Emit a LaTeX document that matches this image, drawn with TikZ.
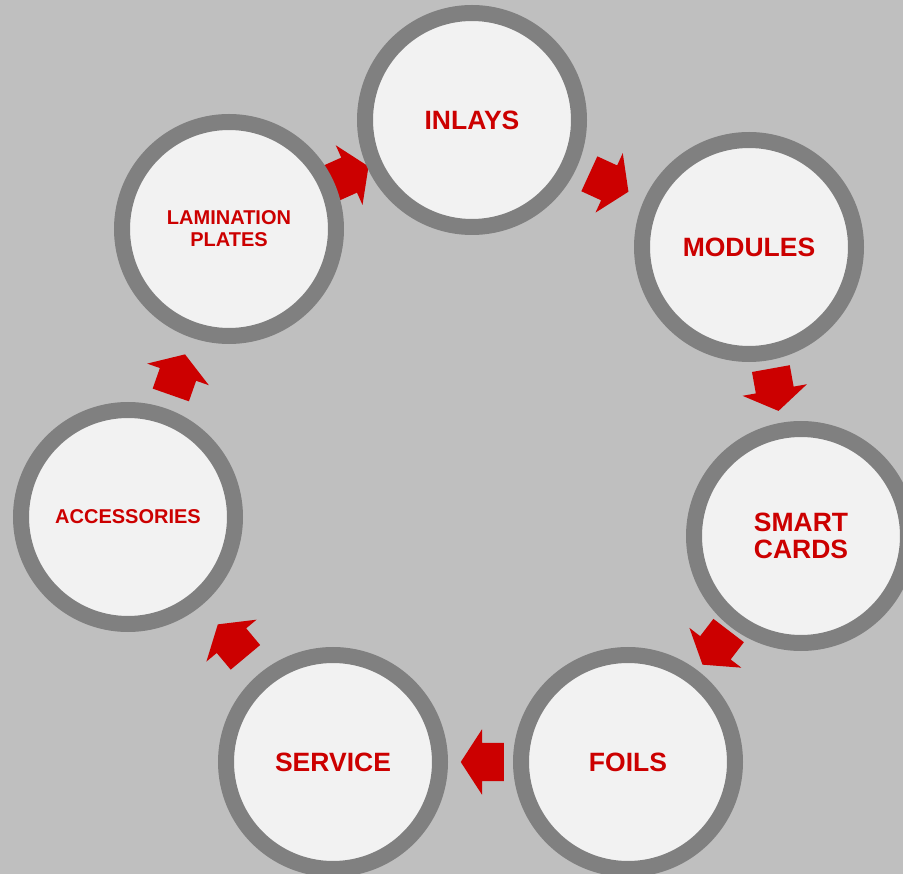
\documentclass[tikz,border=0pt]{standalone}
\usepackage{fontspec}
\setmainfont{Liberation Sans}
\usetikzlibrary{shapes.arrows, backgrounds}

\begin{document}
\begin{tikzpicture}[x=1pt, y=-1pt,
    stage/.style={circle, draw=ringColour, fill=innerColour, line width=16pt,
        minimum size=214pt, inner sep=0pt, align=center, text=labelColour,
        font=\bfseries\fontsize{26.5}{27}\selectfont},
    smallstage/.style={stage, font=\bfseries\fontsize{20}{22}\selectfont},
    flowarrow/.style={single arrow, fill=labelColour, draw=none, sloped, allow upside down,
        minimum height=43pt, minimum width=65pt, inner xsep=0pt, inner ysep=19pt,
        single arrow head extend=13.5pt, single arrow tip angle=114, xshift=-8pt}]

    \definecolor{backColour}{HTML}{BFBFBF}
    \definecolor{ringColour}{HTML}{808080}
    \definecolor{innerColour}{HTML}{F2F2F2}
    \definecolor{labelColour}{HTML}{CC0000}

    % Page frame and grey backdrop
    \useasboundingbox (0,0) rectangle (903,874);
    \clip (0,0) rectangle (903,874);
    \begin{pgfonlayer}{background}
        \fill[backColour] (0,0) rectangle (903,874);
    \end{pgfonlayer}

    % Draw the stages of the cycle
    \node[stage] (inlays) at (472,120) {INLAYS};
    \node[stage] (modules) at (749,247) {MODULES};
    \node[stage] (smartcards) at (801,536) {SMART\\CARDS};
    \node[stage] (foils) at (628,762) {FOILS};
    \node[stage] (service) at (333,762) {SERVICE};
    \node[smallstage] (accessories) at (128,517) {ACCESSORIES};
    \node[smallstage] (lamination) at (229,229) {LAMINATION\\PLATES};

    % Draw the arrows between the stages (behind the circles)
    \begin{pgfonlayer}{background}
        \path (lamination) -- node[flowarrow] (arrowA) {} (inlays);
        \path (inlays) -- node[flowarrow] (arrowB) {} (modules);
        \path (modules) -- node[flowarrow] (arrowC) {} (smartcards);
        \path (smartcards) -- node[flowarrow] (arrowD) {} (foils);
        \path (foils) -- node[flowarrow] (arrowE) {} (service);
        \path (service) -- node[flowarrow] (arrowF) {} (accessories);
        \path (accessories) -- node[flowarrow] (arrowG) {} (lamination);
    \end{pgfonlayer}

\end{tikzpicture}
\end{document}
